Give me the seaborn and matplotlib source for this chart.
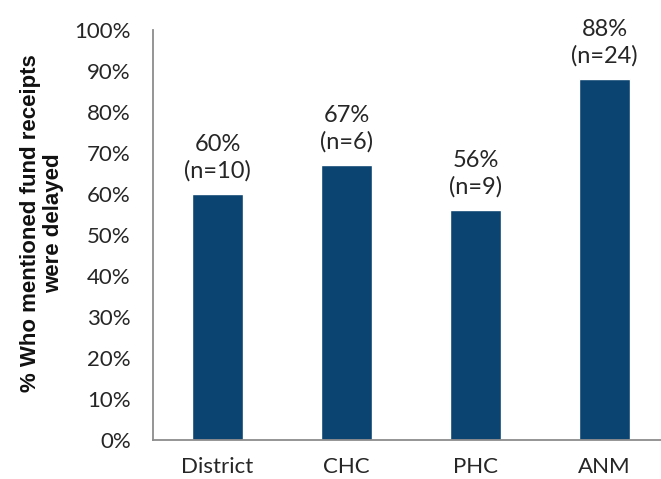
import matplotlib
matplotlib.use("Agg")
import matplotlib.pyplot as plt
import seaborn as sns
import pandas as pd
from matplotlib.ticker import FixedLocator, PercentFormatter

categories = ["District", "CHC", "PHC", "ANM"]
delayed_pct = [60, 67, 56, 88]
respondents = [10, 6, 9, 24]

df = pd.DataFrame({"level": categories, "pct": delayed_pct, "n": respondents})

sns.set_style("white")
plt.rcParams["font.family"] = ["Lato", "DejaVu Sans"]

bar_color = "#0B4470"
spine_color = "#8C8C8C"
text_color = "#262626"

fig = plt.figure(figsize=(6.61, 4.79), dpi=100)
# axis runs past the right edge of the canvas
ax = fig.add_axes([153 / 661, 39 / 479, 516 / 661, 410 / 479])

sns.barplot(data=df, x="level", y="pct", color=bar_color, width=0.40,
            saturation=1, ax=ax)

ax.set_xlim(-0.5, 3.5)
ax.set_ylim(0, 100)
ax.set_yticks(range(0, 101, 10))
ax.yaxis.set_major_formatter(PercentFormatter(decimals=0))

for i, (p, n) in enumerate(zip(delayed_pct, respondents)):
    ax.annotate(f"{p}%\n(n={n})", xy=(i, p), xytext=(0, 9),
                textcoords="offset points", ha="center", va="bottom",
                fontsize=17, color=text_color, linespacing=1.3)

for side in ["top", "right"]:
    ax.spines[side].set_visible(False)
for side in ["left", "bottom"]:
    ax.spines[side].set_color(spine_color)
    ax.spines[side].set_linewidth(1.3)

# boundary ticks below the axis, centre ticks pointing up
ax.xaxis.set_major_locator(FixedLocator([-0.5, 0.5, 1.5, 2.5, 3.5]))
ax.xaxis.set_minor_locator(FixedLocator([0, 1, 2, 3]))
ax.set_xticklabels([])
ax.set_xticks([0, 1, 2, 3], categories, minor=True)
ax.tick_params(axis="x", which="major", direction="out", length=6,
               width=1.3, color=spine_color, labelbottom=False)
ax.tick_params(axis="x", which="minor", direction="in", length=6,
               width=1.3, color=spine_color, labelsize=16,
               labelcolor=text_color, pad=12)
ax.tick_params(axis="y", direction="out", length=6, width=1.3,
               color=spine_color, labelsize=16, labelcolor=text_color, pad=10)

ax.set_xlabel("")
ax.set_ylabel("% Who mentioned fund receipts\nwere delayed", fontsize=16,
              fontweight="bold", family=["Liberation Sans", "DejaVu Sans"],
              color="#111111", linespacing=1.15)
ax.yaxis.set_label_coords(-0.172, 0.53)

fig.savefig("out.png", dpi=100)
